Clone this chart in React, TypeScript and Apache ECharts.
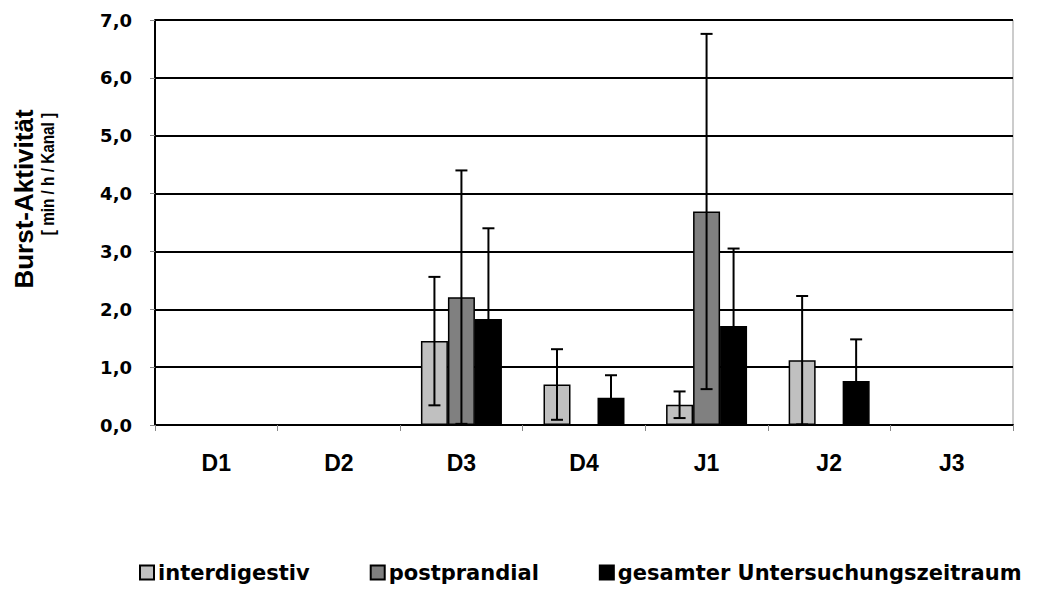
import React, { useEffect, useRef } from "react";
import * as echarts from "echarts";

const categories = ["D1", "D2", "D3", "D4", "J1", "J2", "J3"];
const seriesNames = ["interdigestiv", "postprandial", "gesamter Untersuchungszeitraum"];
const interdigestiv = [null, null, 1.45, 0.7, 0.35, 1.12, null];
const interdigestivSD = [null, null, 1.11, 0.61, 0.23, 1.11, null];
const postprandial = [null, null, 2.21, null, 3.69, null, null];
const postprandialSD = [null, null, 2.19, null, 3.07, null, null];
const gesamt = [null, null, 1.83, 0.47, 1.71, 0.76, null];
const gesamtSD = [null, null, 1.57, 0.39, 1.34, 0.72, null];
const colors = ["#C0C0C0", "#808080", "#000000"];
const yTicks = [0, 1, 2, 3, 4, 5, 6, 7];

const BAR_W = 27;

function errorSeries(idx: number, means: (number | null)[], sds: (number | null)[]) {
  const data = means
    .map((m, i) => (m == null || sds[i] == null ? null : [i, m - (sds[i] as number), m + (sds[i] as number)]))
    .filter((d) => d != null);
  return {
    type: "custom",
    name: seriesNames[idx] + " SD",
    z: 10,
    silent: true,
    data,
    renderItem: (params: any, api: any) => {
      const x = api.value(0);
      const lo = api.coord([x, api.value(1)]);
      const hi = api.coord([x, api.value(2)]);
      const cx = lo[0] + (idx - 1) * BAR_W;
      const half = 6;
      const style = { stroke: "#000", lineWidth: 2 };
      return {
        type: "group",
        children: [
          { type: "line", shape: { x1: cx, y1: lo[1], x2: cx, y2: hi[1] }, style },
          { type: "line", shape: { x1: cx - half, y1: hi[1], x2: cx + half, y2: hi[1] }, style },
          { type: "line", shape: { x1: cx - half, y1: lo[1], x2: cx + half, y2: lo[1] }, style },
        ],
      };
    },
  };
}

export default function App() {
  const ref = useRef<HTMLDivElement>(null);
  useEffect(() => {
    if (!ref.current) return;
    const chart = echarts.init(ref.current, null, { renderer: "svg" });
    const values = [interdigestiv, postprandial, gesamt];
    const barSeries = values.map((v, i) => ({
      type: "bar",
      name: seriesNames[i],
      data: v,
      barWidth: BAR_W,
      barGap: "0%",
      itemStyle: { color: colors[i], borderColor: "#000", borderWidth: 1.5 },
    }));
    chart.setOption({
      animation: false,
      grid: {
        left: 155,
        right: 41,
        top: 20,
        bottom: 165,
        show: true,
        borderColor: "#999",
        borderWidth: 1,
        containLabel: false,
      },
      legend: {
        left: 134,
        top: 557,
        itemWidth: 14,
        itemHeight: 14,
        itemGap: 60,
        icon: "rect",
        data: seriesNames,
        textStyle: {
          fontFamily: "DejaVu Sans",
          fontWeight: "bold",
          fontSize: 21,
          color: "#000",
          padding: [0, 0, 0, -1],
        },
      },
      xAxis: {
        type: "category",
        data: categories,
        axisLine: { lineStyle: { color: "#000", width: 2 } },
        axisTick: { show: true, length: 6, lineStyle: { color: "#888", width: 1 } },
        axisLabel: {
          margin: 26,
          fontFamily: "Liberation Sans",
          fontWeight: "bold",
          fontSize: 23,
          color: "#000",
        },
      },
      yAxis: {
        type: "value",
        min: yTicks[0],
        max: yTicks[yTicks.length - 1],
        interval: 1,
        axisLine: { show: true, lineStyle: { color: "#000", width: 2 } },
        axisTick: { show: true, length: 5, lineStyle: { color: "#888", width: 1 } },
        splitLine: { lineStyle: { color: "#000", width: 2 } },
        axisLabel: {
          margin: 23,
          fontFamily: "DejaVu Sans",
          fontWeight: "bold",
          fontSize: 18,
          color: "#000",
          formatter: (v: number) => v.toFixed(1).replace(".", ","),
        },
      },
      graphic: [
        {
          type: "text",
          x: 24,
          y: 199,
          rotation: Math.PI / 2,
          style: {
            text: "Burst-Aktivität",
            fontFamily: "Liberation Sans",
            fontWeight: "bold",
            fontSize: 26,
            fill: "#000",
            align: "center",
            verticalAlign: "middle",
          },
        },
        {
          type: "text",
          x: 48,
          y: 174,
          rotation: Math.PI / 2,
          scaleX: 0.85,
          style: {
            text: "[ min / h / Kanal ]",
            fontFamily: "Liberation Sans",
            fontWeight: "bold",
            fontSize: 18,
            fill: "#000",
            align: "center",
            verticalAlign: "middle",
          },
        },
      ],
      series: [
        ...barSeries,
        errorSeries(0, interdigestiv, interdigestivSD),
        errorSeries(1, postprandial, postprandialSD),
        errorSeries(2, gesamt, gesamtSD),
      ],
    });
    return () => chart.dispose();
  }, []);
  return (
    <div
      ref={ref}
      style={{ position: "absolute", left: 0, top: 0, width: 1054, height: 590, background: "#fff" }}
    />
  );
}
